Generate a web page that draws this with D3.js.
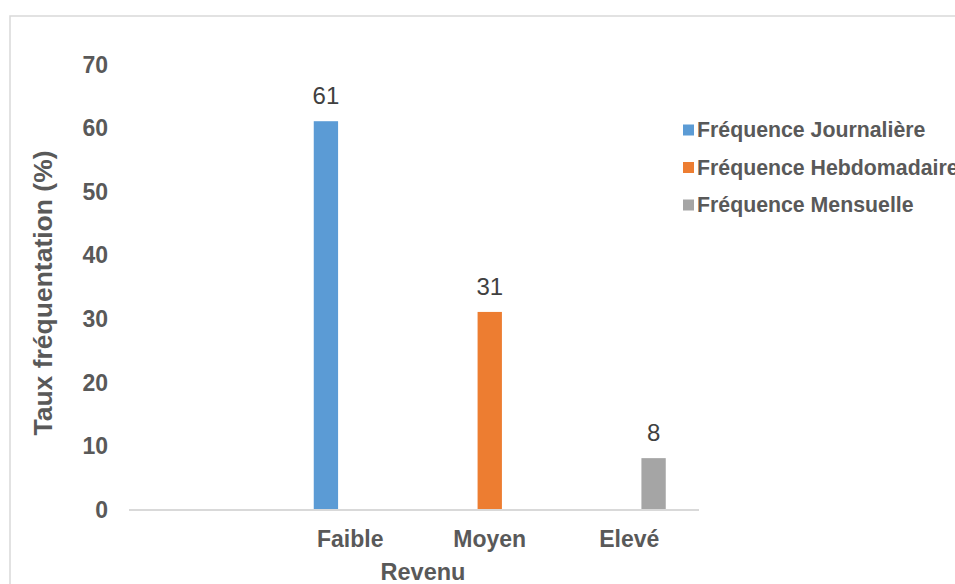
<!DOCTYPE html>
<html>
<head>
<meta charset="utf-8">
<script src="https://cdn.jsdelivr.net/npm/d3@7"></script>
<style>
  html, body { margin: 0; padding: 0; background: #fff; }
  svg { display: block; }
  text { font-family: "Liberation Sans", Arial, sans-serif; }
</style>
</head>
<body>
<svg id="chart" width="955" height="584"></svg>
<script>
// Revenue groups (the first slot is left blank on the axis)
const categories = ["", "Faible", "Moyen", "Elevé"];
const seriesNames = ["Fréquence Journalière", "Fréquence Hebdomadaire", "Fréquence Mensuelle"];
const seriesColors = ["#5B9BD5", "#ED7D31", "#A5A5A5"];
// One value per series; each series only has a bar in its own revenue group
const journaliere   = [null, 61, null, null];
const hebdomadaire  = [null, null, 31, null];
const mensuelle     = [null, null, null, 8];
const yTicks = [0, 10, 20, 30, 40, 50, 60, 70];

const seriesValues = [journaliere, hebdomadaire, mensuelle];

const svg = d3.select("#chart");

// Outer chart frame
svg.append("rect")
  .attr("x", 10).attr("y", 16)
  .attr("width", 980).attr("height", 620)
  .attr("fill", "#fff")
  .attr("stroke", "#d9d9d9")
  .attr("stroke-width", 1.5);

const plot = { left: 129, right: 699, bottom: 509, top: 64 };

const x = d3.scaleBand()
  .domain(categories)
  .range([141, plot.right])
  .padding(0);

const inner = d3.scaleBand()
  .domain(d3.range(seriesNames.length))
  .range([-36.5, 36.5]);

const y = d3.scaleLinear()
  .domain([0, 70])
  .range([plot.bottom, plot.top]);

// Y axis labels (no axis line, no gridlines)
const yAxis = d3.axisLeft(y).tickValues(yTicks).tickSize(0).tickPadding(0);
const gy = svg.append("g").attr("transform", "translate(108,0)").call(yAxis);
gy.select(".domain").remove();
gy.selectAll("text")
  .attr("fill", "#595959")
  .attr("font-size", 23)
  .attr("font-weight", "bold")
  .attr("dy", "0.36em")
  .style("font-family", "'Liberation Sans', Arial, sans-serif");

// Bars
const bars = [];
seriesValues.forEach((vals, s) => {
  vals.forEach((v, i) => {
    if (v !== null) bars.push({ s, cat: categories[i], v });
  });
});

svg.append("g").selectAll("rect")
  .data(bars)
  .join("rect")
  .attr("x", d => x(d.cat) + x.bandwidth() / 2 + inner(d.s))
  .attr("width", inner.bandwidth())
  .attr("y", d => y(d.v))
  .attr("height", d => y(0) - y(d.v))
  .attr("fill", d => seriesColors[d.s]);

// Value labels
svg.append("g").selectAll("text")
  .data(bars)
  .join("text")
  .attr("x", d => x(d.cat) + x.bandwidth() / 2 + inner(d.s) + inner.bandwidth() / 2)
  .attr("y", d => y(d.v) - 17)
  .attr("text-anchor", "middle")
  .attr("font-size", 24)
  .attr("fill", "#404040")
  .text(d => d.v);

// X axis baseline
svg.append("line")
  .attr("x1", plot.left).attr("x2", plot.right)
  .attr("y1", y(0) + 1).attr("y2", y(0) + 1)
  .attr("stroke", "#d9d9d9")
  .attr("stroke-width", 2);

// Category labels
const xAxis = d3.axisBottom(x).tickSize(0).tickPadding(0);
const gx = svg.append("g").attr("transform", "translate(0,547)").call(xAxis);
gx.select(".domain").remove();
gx.selectAll("text")
  .attr("y", 0)
  .attr("dy", 0)
  .attr("fill", "#595959")
  .attr("font-size", 23)
  .attr("font-weight", "bold")
  .style("font-family", "'Liberation Sans', Arial, sans-serif");

// Axis titles
svg.append("text")
  .attr("x", 423).attr("y", 580)
  .attr("text-anchor", "middle")
  .attr("font-size", 23.5)
  .attr("font-weight", "bold")
  .attr("fill", "#595959")
  .text("Revenu");

svg.append("text")
  .attr("transform", "translate(52,293) rotate(-90)")
  .attr("text-anchor", "middle")
  .attr("font-size", 26.5)
  .attr("font-weight", "bold")
  .attr("fill", "#595959")
  .text("Taux fréquentation (%)");

// Legend
const legend = svg.append("g").attr("transform", "translate(683,130)");
const rows = legend.selectAll("g")
  .data(seriesNames)
  .join("g")
  .attr("transform", (d, i) => `translate(0,${i * 37.5})`);
rows.append("rect")
  .attr("x", 0).attr("y", -5.5)
  .attr("width", 11).attr("height", 11)
  .attr("fill", (d, i) => seriesColors[i]);
rows.append("text")
  .attr("x", 14).attr("y", 7)
  .attr("font-size", 21.3)
  .attr("font-weight", "bold")
  .attr("fill", "#595959")
  .text(d => d);
</script>
</body>
</html>
